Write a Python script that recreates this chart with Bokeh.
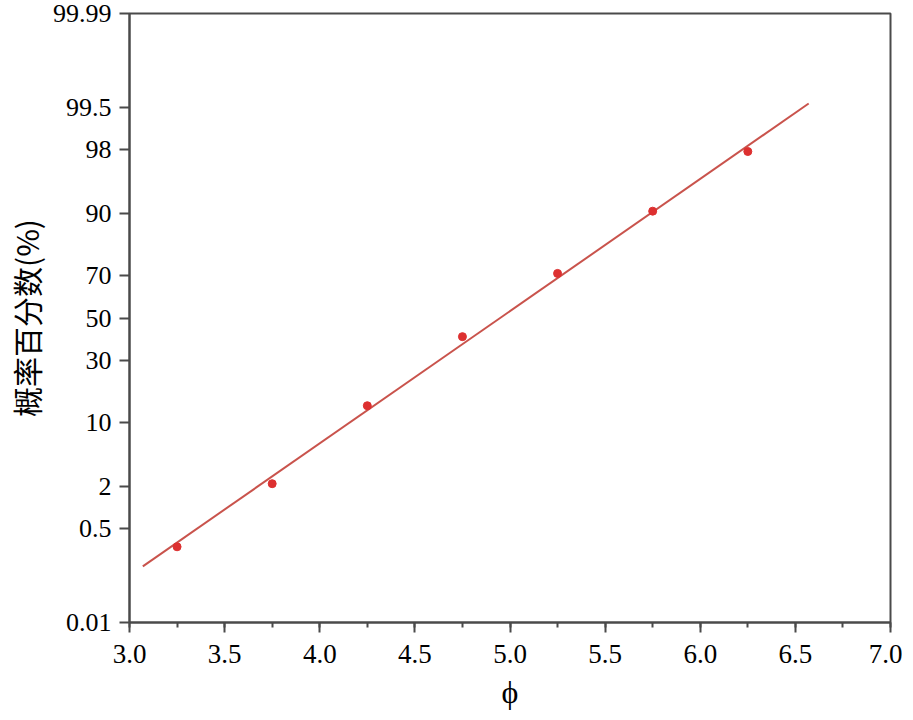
from statistics import NormalDist
from bokeh.plotting import figure
from bokeh.models import FixedTicker, SingleIntervalTicker, CustomJSTickFormatter, Range1d
from bokeh.embed import file_html
from bokeh.resources import INLINE

# ---- data ----
phi = [3.25, 3.75, 4.25, 4.75, 5.25, 5.75, 6.25]
pct = [0.26, 2.15, 14.2, 41.0, 70.7, 90.4, 97.9]

fit_phi = [3.07, 6.57]
fit_pct = [0.121, 99.56]

y_tick_pct = [0.01, 0.5, 2, 10, 30, 50, 70, 90, 98, 99.5, 99.99]
y_tick_labels = ["0.01", "0.5", "2", "10", "30", "50", "70", "90", "98", "99.5", "99.99"]

# ---- probability (probit) scale ----
nd = NormalDist()
def probit(p):
    return nd.inv_cdf(p / 100.0)

z_pts = [probit(v) for v in pct]
z_fit = [probit(v) for v in fit_pct]
z_ticks = [probit(v) for v in y_tick_pct]

p = figure(output_backend="svg", toolbar_location=None,
           frame_width=761, frame_height=609,
           min_border_left=118, min_border_top=13, min_border_right=12, min_border_bottom=76,
           x_range=Range1d(3.0, 7.0), y_range=Range1d(z_ticks[0], z_ticks[-1]))

p.xgrid.visible = False
p.ygrid.visible = False
p.outline_line_color = "#4a4a4a"
p.outline_line_width = 2
p.background_fill_color = "white"
p.border_fill_color = "white"

p.line(fit_phi, z_fit, line_color="#c9534c", line_width=2)
p.scatter(phi, z_pts, size=8, fill_color="#dd3030", line_color="#dd3030")

serif = "Liberation Serif"
dark = "#4a4a4a"

xa = p.xaxis[0]
xa.ticker = SingleIntervalTicker(interval=0.5, num_minor_ticks=2)
xa.formatter = CustomJSTickFormatter(code="return tick.toFixed(1);")
xa.axis_label = "ϕ"
xa.axis_label_text_font = serif
xa.axis_label_text_font_style = "normal"
xa.axis_label_text_font_size = "32px"
xa.axis_label_text_color = "black"
xa.axis_label_standoff = 8
xa.major_label_text_font = serif
xa.major_label_text_font_size = "27px"
xa.major_label_text_color = "black"
xa.major_label_standoff = 12
xa.major_tick_out = 10
xa.major_tick_in = 0
xa.minor_tick_out = 5
xa.minor_tick_in = 0
xa.axis_line_color = dark
xa.axis_line_width = 2
xa.major_tick_line_color = dark
xa.major_tick_line_width = 2
xa.minor_tick_line_color = dark
xa.minor_tick_line_width = 2

ya = p.yaxis[0]
ya.ticker = FixedTicker(ticks=z_ticks, minor_ticks=[])
ya.formatter = CustomJSTickFormatter(args=dict(zs=z_ticks, labs=y_tick_labels), code="""
let best = 0, bd = Infinity;
for (let i = 0; i < zs.length; i++) { const d = Math.abs(zs[i] - tick); if (d < bd) { bd = d; best = i; } }
return labs[best];
""")
ya.axis_label = "概率百分数(%)"
ya.axis_label_text_font = "Noto Sans CJK SC"
ya.axis_label_text_font_style = "normal"
ya.axis_label_text_font_size = "30px"
ya.axis_label_text_color = "black"
ya.axis_label_standoff = 2
ya.major_label_text_font = serif
ya.major_label_text_font_size = "26px"
ya.major_label_text_color = "black"
ya.major_label_standoff = 8
ya.major_tick_out = 10
ya.major_tick_in = 0
ya.minor_tick_out = 0
ya.minor_tick_in = 0
ya.axis_line_color = dark
ya.axis_line_width = 2
ya.major_tick_line_color = dark
ya.major_tick_line_width = 2

open("out.html", "w").write(file_html(p, INLINE))
